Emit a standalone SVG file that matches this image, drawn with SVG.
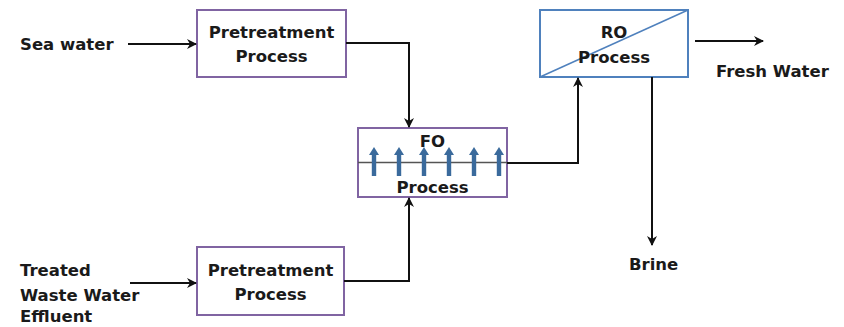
<svg xmlns="http://www.w3.org/2000/svg" width="844" height="327" viewBox="0 0 844 327">
  <defs>
    <style>
      .lbl { font-family: "DejaVu Sans", "Liberation Sans", sans-serif; font-size: 16.5px; font-weight: bold; fill: #1a1a1a; }
      .mid { text-anchor: middle; }
      .box { fill: #ffffff; stroke: #8064a2; stroke-width: 2; }
      .ro { fill: #ffffff; stroke: #4f81bd; stroke-width: 2; }
      .wire { fill: none; stroke: #111111; stroke-width: 2; marker-end: url(#head); }
      .flux { fill: #3a6a9c; }
    </style>
    <marker id="head" viewBox="0 0 10 10" refX="9" refY="5" markerWidth="10" markerHeight="10" markerUnits="userSpaceOnUse" orient="auto">
      <path d="M0,0 L10,5 L0,10 L3,5 z" fill="#111111"/>
    </marker>
    <path id="up" d="M-2.2,29 L-2.2,8 L-5,8 L0,0 L5,8 L2.2,8 L2.2,29 z"/>
  </defs>

  <g id="sea-water">
    <text class="lbl" x="20" y="50">Sea water</text>
  </g>

  <g id="effluent">
    <text class="lbl" x="20" y="276">Treated</text>
    <text class="lbl" x="20" y="301">Waste Water</text>
    <text class="lbl" x="20" y="322">Effluent</text>
  </g>

  <g id="pretreat-top">
    <rect class="box" x="197" y="10" width="149" height="67"/>
    <text class="lbl mid" x="271.5" y="38">Pretreatment</text>
    <text class="lbl mid" x="271.5" y="62">Process</text>
  </g>

  <g id="pretreat-bottom">
    <rect class="box" x="197" y="247" width="147" height="68"/>
    <text class="lbl mid" x="270.5" y="276">Pretreatment</text>
    <text class="lbl mid" x="270.5" y="300">Process</text>
  </g>

  <g id="fo">
    <rect class="box" x="358" y="128" width="149" height="69"/>
    <line x1="358" y1="162.5" x2="507" y2="162.5" stroke="#555555" stroke-width="1.5"/>
    <g class="flux">
      <use href="#up" x="374" y="147"/>
      <use href="#up" x="399" y="147"/>
      <use href="#up" x="424" y="147"/>
      <use href="#up" x="449" y="147"/>
      <use href="#up" x="474" y="147"/>
      <use href="#up" x="499" y="147"/>
    </g>
    <text class="lbl mid" x="432.5" y="147">FO</text>
    <text class="lbl mid" x="432.5" y="193">Process</text>
  </g>

  <g id="ro">
    <rect class="ro" x="540" y="10" width="148" height="67"/>
    <line x1="540" y1="77" x2="688" y2="10" stroke="#4f81bd" stroke-width="1.5"/>
    <text class="lbl mid" x="614" y="38">RO</text>
    <text class="lbl mid" x="614" y="63">Process</text>
  </g>

  <g id="fresh-water">
    <text class="lbl" x="716" y="77">Fresh Water</text>
  </g>

  <g id="brine">
    <text class="lbl" x="629" y="270">Brine</text>
  </g>

  <g id="connectors">
    <path class="wire" d="M128,44 L196,44"/>
    <path class="wire" d="M130,283 L196,283"/>
    <path class="wire" d="M346,43 L409,43 L409,127"/>
    <path class="wire" d="M344,281 L409,281 L409,198"/>
    <path class="wire" d="M507,163 L578,163 L578,78"/>
    <path class="wire" d="M695,41 L763,41"/>
    <path class="wire" d="M652,77 L652,245"/>
  </g>
</svg>
